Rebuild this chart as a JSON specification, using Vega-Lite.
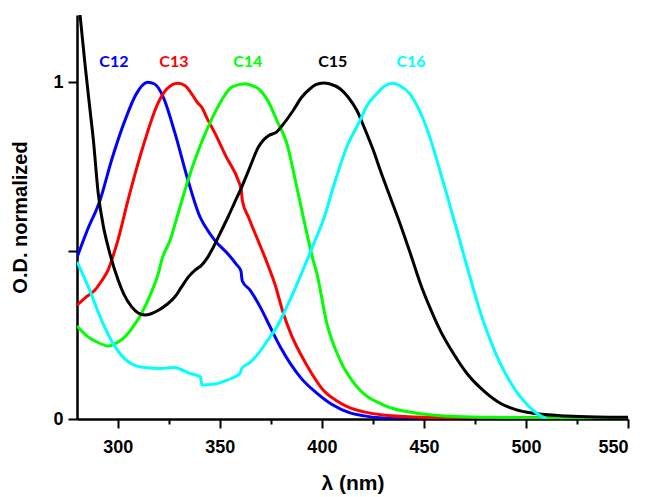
{
  "$schema": "https://vega.github.io/schema/vega-lite/v6.json",
  "width": 551,
  "height": 404,
  "autosize": {"type": "none"},
  "padding": {"left": 77, "top": 15, "right": 17, "bottom": 78},
  "background": "white",
  "config": {"view": {"stroke": null}},
  "datasets": {
    "curves": [
      {"s":"C12","x":280,"y":0.48},{"s":"C12","x":285,"y":0.56},{"s":"C12","x":291.3,"y":0.65},{"s":"C12","x":297,"y":0.77},{"s":"C12","x":303.5,"y":0.887},{"s":"C12","x":309,"y":0.965},{"s":"C12","x":314.6,"y":1.0},{"s":"C12","x":318,"y":0.995},{"s":"C12","x":322,"y":0.96},{"s":"C12","x":328,"y":0.849},{"s":"C12","x":334.4,"y":0.709},{"s":"C12","x":340.3,"y":0.6},{"s":"C12","x":343,"y":0.57},{"s":"C12","x":347.6,"y":0.53},{"s":"C12","x":354,"y":0.49},{"s":"C12","x":358,"y":0.46},{"s":"C12","x":360.3,"y":0.44},{"s":"C12","x":361,"y":0.41},{"s":"C12","x":364.8,"y":0.383},{"s":"C12","x":370,"y":0.33},{"s":"C12","x":374.6,"y":0.274},{"s":"C12","x":380,"y":0.21},{"s":"C12","x":384.4,"y":0.166},{"s":"C12","x":390,"y":0.12},{"s":"C12","x":397.5,"y":0.077},{"s":"C12","x":405,"y":0.043},{"s":"C12","x":413.8,"y":0.018},{"s":"C12","x":420,"y":0.01},{"s":"C12","x":430,"y":0.003},{"s":"C12","x":440,"y":0.001},{"s":"C12","x":460,"y":0},{"s":"C12","x":500,"y":0},{"s":"C12","x":550,"y":0},
      {"s":"C13","x":280,"y":0.338},{"s":"C13","x":284,"y":0.36},{"s":"C13","x":288.8,"y":0.383},{"s":"C13","x":292,"y":0.41},{"s":"C13","x":295.2,"y":0.442},{"s":"C13","x":297,"y":0.472},{"s":"C13","x":300,"y":0.53},{"s":"C13","x":305,"y":0.65},{"s":"C13","x":309,"y":0.74},{"s":"C13","x":313.3,"y":0.828},{"s":"C13","x":319.7,"y":0.938},{"s":"C13","x":324,"y":0.98},{"s":"C13","x":329.5,"y":0.997},{"s":"C13","x":333,"y":0.99},{"s":"C13","x":336.2,"y":0.966},{"s":"C13","x":339,"y":0.94},{"s":"C13","x":341,"y":0.927},{"s":"C13","x":344,"y":0.89},{"s":"C13","x":347.6,"y":0.849},{"s":"C13","x":353,"y":0.78},{"s":"C13","x":359,"y":0.709},{"s":"C13","x":360.5,"y":0.68},{"s":"C13","x":361,"y":0.65},{"s":"C13","x":364,"y":0.6},{"s":"C13","x":368.1,"y":0.539},{"s":"C13","x":373,"y":0.466},{"s":"C13","x":377,"y":0.4},{"s":"C13","x":381.1,"y":0.314},{"s":"C13","x":385,"y":0.25},{"s":"C13","x":389.3,"y":0.196},{"s":"C13","x":395,"y":0.135},{"s":"C13","x":400.6,"y":0.086},{"s":"C13","x":407,"y":0.055},{"s":"C13","x":413.8,"y":0.033},{"s":"C13","x":420,"y":0.022},{"s":"C13","x":430,"y":0.012},{"s":"C13","x":445,"y":0.006},{"s":"C13","x":462.8,"y":0.004},{"s":"C13","x":500,"y":0.004},{"s":"C13","x":550,"y":0.004},
      {"s":"C14","x":280,"y":0.276},{"s":"C14","x":285.4,"y":0.244},{"s":"C14","x":290,"y":0.228},{"s":"C14","x":295.3,"y":0.217},{"s":"C14","x":299,"y":0.225},{"s":"C14","x":303.5,"y":0.244},{"s":"C14","x":307,"y":0.27},{"s":"C14","x":311.7,"y":0.314},{"s":"C14","x":316,"y":0.37},{"s":"C14","x":319.9,"y":0.433},{"s":"C14","x":321.5,"y":0.472},{"s":"C14","x":325.6,"y":0.531},{"s":"C14","x":330,"y":0.62},{"s":"C14","x":334.4,"y":0.709},{"s":"C14","x":339,"y":0.79},{"s":"C14","x":344.2,"y":0.867},{"s":"C14","x":350.9,"y":0.947},{"s":"C14","x":355.8,"y":0.986},{"s":"C14","x":362.4,"y":0.996},{"s":"C14","x":366,"y":0.99},{"s":"C14","x":368.7,"y":0.982},{"s":"C14","x":371.2,"y":0.966},{"s":"C14","x":374,"y":0.94},{"s":"C14","x":377.9,"y":0.887},{"s":"C14","x":382.8,"y":0.819},{"s":"C14","x":387.7,"y":0.689},{"s":"C14","x":392.6,"y":0.552},{"s":"C14","x":395.7,"y":0.472},{"s":"C14","x":397.5,"y":0.433},{"s":"C14","x":402.4,"y":0.285},{"s":"C14","x":408.9,"y":0.175},{"s":"C14","x":417.1,"y":0.096},{"s":"C14","x":430,"y":0.042},{"s":"C14","x":446.5,"y":0.017},{"s":"C14","x":462.8,"y":0.008},{"s":"C14","x":480,"y":0.005},{"s":"C14","x":500,"y":0.004},{"s":"C14","x":550,"y":0.003},
      {"s":"C15","x":280,"y":1.29},{"s":"C15","x":281.5,"y":1.2},{"s":"C15","x":283.9,"y":1.055},{"s":"C15","x":286.4,"y":0.917},{"s":"C15","x":288,"y":0.83},{"s":"C15","x":290.4,"y":0.67},{"s":"C15","x":293,"y":0.57},{"s":"C15","x":295.3,"y":0.51},{"s":"C15","x":300.2,"y":0.412},{"s":"C15","x":303,"y":0.37},{"s":"C15","x":306.8,"y":0.333},{"s":"C15","x":310,"y":0.315},{"s":"C15","x":313.3,"y":0.309},{"s":"C15","x":316,"y":0.312},{"s":"C15","x":319.9,"y":0.323},{"s":"C15","x":324,"y":0.34},{"s":"C15","x":328,"y":0.363},{"s":"C15","x":331,"y":0.39},{"s":"C15","x":334.6,"y":0.422},{"s":"C15","x":338,"y":0.443},{"s":"C15","x":341.1,"y":0.457},{"s":"C15","x":344,"y":0.48},{"s":"C15","x":346,"y":0.501},{"s":"C15","x":350,"y":0.55},{"s":"C15","x":354,"y":0.6},{"s":"C15","x":357,"y":0.64},{"s":"C15","x":360.7,"y":0.689},{"s":"C15","x":364.8,"y":0.749},{"s":"C15","x":368.9,"y":0.808},{"s":"C15","x":371.3,"y":0.828},{"s":"C15","x":374,"y":0.842},{"s":"C15","x":377.9,"y":0.853},{"s":"C15","x":381,"y":0.875},{"s":"C15","x":386,"y":0.917},{"s":"C15","x":390,"y":0.955},{"s":"C15","x":394.2,"y":0.981},{"s":"C15","x":397,"y":0.993},{"s":"C15","x":400.7,"y":0.998},{"s":"C15","x":404,"y":0.995},{"s":"C15","x":408.9,"y":0.981},{"s":"C15","x":413,"y":0.955},{"s":"C15","x":417.1,"y":0.917},{"s":"C15","x":421,"y":0.862},{"s":"C15","x":425.2,"y":0.798},{"s":"C15","x":429,"y":0.732},{"s":"C15","x":433.4,"y":0.66},{"s":"C15","x":438.3,"y":0.58},{"s":"C15","x":444,"y":0.48},{"s":"C15","x":448.1,"y":0.405},{"s":"C15","x":453,"y":0.33},{"s":"C15","x":457.9,"y":0.264},{"s":"C15","x":464.3,"y":0.196},{"s":"C15","x":471,"y":0.136},{"s":"C15","x":480,"y":0.08},{"s":"C15","x":487.4,"y":0.047},{"s":"C15","x":495,"y":0.028},{"s":"C15","x":503.7,"y":0.017},{"s":"C15","x":520,"y":0.009},{"s":"C15","x":535,"y":0.006},{"s":"C15","x":550,"y":0.005},
      {"s":"C16","x":280,"y":0.467},{"s":"C16","x":285.5,"y":0.393},{"s":"C16","x":292,"y":0.294},{"s":"C16","x":298.6,"y":0.215},{"s":"C16","x":305.1,"y":0.17},{"s":"C16","x":309,"y":0.158},{"s":"C16","x":313.3,"y":0.153},{"s":"C16","x":321.5,"y":0.15},{"s":"C16","x":325,"y":0.152},{"s":"C16","x":328,"y":0.153},{"s":"C16","x":331,"y":0.147},{"s":"C16","x":334.6,"y":0.137},{"s":"C16","x":339.5,"y":0.128},{"s":"C16","x":340.5,"y":0.125},{"s":"C16","x":341.1,"y":0.101},{"s":"C16","x":347.6,"y":0.104},{"s":"C16","x":352,"y":0.112},{"s":"C16","x":355.8,"y":0.121},{"s":"C16","x":359.9,"y":0.136},{"s":"C16","x":360.7,"y":0.15},{"s":"C16","x":364.8,"y":0.168},{"s":"C16","x":368.9,"y":0.195},{"s":"C16","x":374.6,"y":0.244},{"s":"C16","x":377,"y":0.264},{"s":"C16","x":382.8,"y":0.333},{"s":"C16","x":389.3,"y":0.422},{"s":"C16","x":393.4,"y":0.482},{"s":"C16","x":396.7,"y":0.531},{"s":"C16","x":400.7,"y":0.591},{"s":"C16","x":405.6,"y":0.689},{"s":"C16","x":412.2,"y":0.808},{"s":"C16","x":418.7,"y":0.887},{"s":"C16","x":422,"y":0.93},{"s":"C16","x":426.9,"y":0.966},{"s":"C16","x":431,"y":0.99},{"s":"C16","x":435,"y":0.997},{"s":"C16","x":438.3,"y":0.99},{"s":"C16","x":443.2,"y":0.965},{"s":"C16","x":449,"y":0.9},{"s":"C16","x":453,"y":0.835},{"s":"C16","x":457,"y":0.755},{"s":"C16","x":462,"y":0.65},{"s":"C16","x":466.9,"y":0.545},{"s":"C16","x":470.2,"y":0.472},{"s":"C16","x":474.3,"y":0.385},{"s":"C16","x":478,"y":0.31},{"s":"C16","x":482.5,"y":0.235},{"s":"C16","x":486,"y":0.183},{"s":"C16","x":490.6,"y":0.128},{"s":"C16","x":495,"y":0.084},{"s":"C16","x":500.4,"y":0.044},{"s":"C16","x":505,"y":0.018},{"s":"C16","x":510.2,"y":0}
    ],
    "labels": [
      {"s":"C12","x":298.1,"y":1.06},
      {"s":"C13","x":327.5,"y":1.06},
      {"s":"C14","x":363.7,"y":1.06},
      {"s":"C15","x":405.3,"y":1.06},
      {"s":"C16","x":443.7,"y":1.06}
    ]
  },
  "layer": [
    {
      "data": {"name": "curves"},
      "mark": {"type": "line", "strokeWidth": 3, "interpolate": "monotone", "clip": true},
      "encoding": {
        "x": {"field": "x", "type": "quantitative", "scale": {"domain": [280, 550], "nice": false, "zero": false},
          "axis": {"title": "λ (nm)", "values": [300, 350, 400, 450, 500, 550], "grid": false, "domainColor": "black", "domainWidth": 2.5, "tickColor": "black", "tickWidth": 2, "tickSize": 9, "labelFont": "Liberation Sans", "labelFontWeight": "bold", "labelFontSize": 18, "labelColor": "black", "labelPadding": 10, "titleFont": "Liberation Sans", "titleFontWeight": "bold", "titleFontSize": 21, "titleColor": "black", "titlePadding": 16}},
        "y": {"field": "y", "type": "quantitative", "scale": {"domain": [0, 1.2], "nice": false},
          "axis": {"title": "O.D. normalized", "values": [0, 0.5, 1], "labelExpr": "datum.value == 0.5 ? '' : format(datum.value, 'd')", "grid": false, "domainColor": "black", "domainWidth": 2.5, "tickColor": "black", "tickWidth": 2, "tickSize": 9, "labelFont": "Liberation Sans", "labelFontWeight": "bold", "labelFontSize": 18, "labelColor": "black", "labelPadding": 5, "titleFont": "Liberation Sans", "titleFontWeight": "bold", "titleFontSize": 20, "titleColor": "black", "titlePadding": 22}},
        "color": {"field": "s", "type": "nominal", "scale": {"domain": ["C12", "C13", "C14", "C15", "C16"], "range": ["#0000FF", "#FF0000", "#00FF00", "#000000", "#00FFFF"]}, "legend": null},
        "detail": {"field": "s"}
      }
    },
    {
      "data": {"name": "labels"},
      "mark": {"type": "text", "font": "Lato", "fontWeight": "bold", "fontSize": 16, "baseline": "middle", "align": "center"},
      "encoding": {
        "x": {"field": "x", "type": "quantitative", "axis": {"orient": "bottom", "values": [325, 375, 425, 475, 525], "labels": false, "title": null, "domain": false, "grid": false, "tickColor": "black", "tickWidth": 2, "tickSize": 5}},
        "y": {"field": "y", "type": "quantitative"},
        "text": {"field": "s"},
        "color": {"field": "s", "type": "nominal", "legend": null}
      }
    }
  ],
  "resolve": {"axis": {"x": "independent"}}
}
